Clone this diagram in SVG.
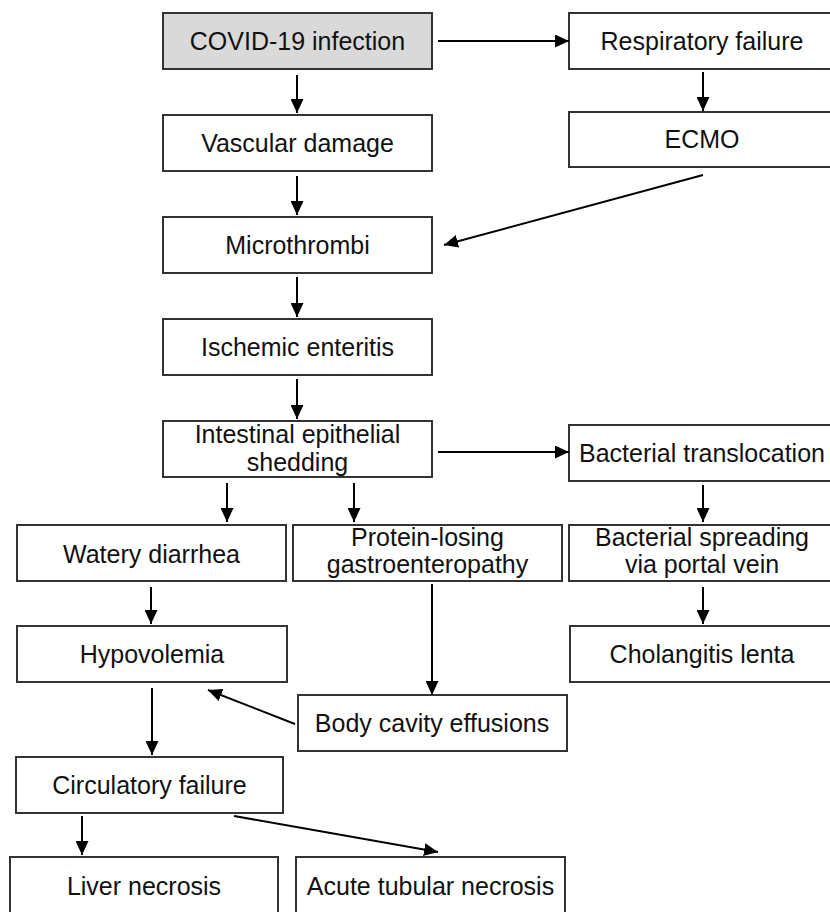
<svg xmlns="http://www.w3.org/2000/svg" width="830" height="912" viewBox="0 0 830 912">
<defs>
<marker id="ah" markerUnits="userSpaceOnUse" markerWidth="15" markerHeight="13" refX="14" refY="6.5" orient="auto">
<path d="M0,0 L14,6.5 L0,13 z" fill="#000"/>
</marker>
<style>
.box{fill:#fff;stroke:#333;stroke-width:2}
.gray{fill:#d9d9d9}
.t{font-family:"Liberation Sans",Arial,sans-serif;font-size:25px;fill:#111;text-anchor:middle}
.c{stroke:#000;stroke-width:2;fill:none;marker-end:url(#ah)}
</style>
</defs>
<rect width="830" height="912" fill="#fff"/>
<g id="covid"><rect class="box gray" x="163" y="13" width="269" height="56"/><text class="t" x="297.5" y="50">COVID-19 infection</text></g>
<g id="resp"><rect class="box" x="569" y="13" width="268" height="56"/><text class="t" x="702" y="50">Respiratory failure</text></g>
<g id="vascular"><rect class="box" x="163" y="115" width="269" height="56"/><text class="t" x="297.5" y="152">Vascular damage</text></g>
<g id="ecmo"><rect class="box" x="569" y="112" width="268" height="55"/><text class="t" x="702" y="148">ECMO</text></g>
<g id="micro"><rect class="box" x="163" y="217" width="269" height="56"/><text class="t" x="297.5" y="254">Microthrombi</text></g>
<g id="ischemic"><rect class="box" x="163" y="319" width="269" height="56"/><text class="t" x="297.5" y="356">Ischemic enteritis</text></g>
<g id="intestinal"><rect class="box" x="163" y="421" width="269" height="56"/><text class="t" x="297.5" y="443">Intestinal epithelial</text><text class="t" x="297.5" y="471">shedding</text></g>
<g id="bacttrans"><rect class="box" x="569" y="425" width="268" height="56"/><text class="t" x="702" y="462">Bacterial translocation</text></g>
<g id="watery"><rect class="box" x="17" y="525" width="269" height="56"/><text class="t" x="151.5" y="563">Watery diarrhea</text></g>
<g id="protein"><rect class="box" x="293" y="525" width="269" height="56"/><text class="t" x="427.5" y="546">Protein-losing</text><text class="t" x="427.5" y="573">gastroenteropathy</text></g>
<g id="spreading"><rect class="box" x="569" y="525" width="268" height="56"/><text class="t" x="702" y="546">Bacterial spreading</text><text class="t" x="702" y="573">via portal vein</text></g>
<g id="hypo"><rect class="box" x="17" y="626" width="270" height="56"/><text class="t" x="152" y="663">Hypovolemia</text></g>
<g id="chol"><rect class="box" x="570" y="626" width="267" height="56"/><text class="t" x="702" y="663">Cholangitis lenta</text></g>
<g id="body"><rect class="box" x="298" y="695" width="269" height="56"/><text class="t" x="432" y="732">Body cavity effusions</text></g>
<g id="circ"><rect class="box" x="16" y="757" width="267" height="56"/><text class="t" x="149.5" y="794">Circulatory failure</text></g>
<g id="liver"><rect class="box" x="10" y="857" width="268" height="60"/><text class="t" x="144" y="895">Liver necrosis</text></g>
<g id="acute"><rect class="box" x="296" y="857" width="269" height="60"/><text class="t" x="430.5" y="895">Acute tubular necrosis</text></g>
<g id="connectors">
<line class="c" x1="438" y1="41" x2="569" y2="41"/>
<line class="c" x1="297" y1="75" x2="297" y2="113"/>
<line class="c" x1="703" y1="72" x2="703" y2="111"/>
<line class="c" x1="297" y1="176" x2="297" y2="215"/>
<line class="c" x1="703" y1="175" x2="444" y2="245"/>
<line class="c" x1="297" y1="277" x2="297" y2="317"/>
<line class="c" x1="297" y1="379" x2="297" y2="419"/>
<line class="c" x1="438" y1="452" x2="569" y2="452"/>
<line class="c" x1="227" y1="483" x2="227" y2="522"/>
<line class="c" x1="354" y1="483" x2="354" y2="522"/>
<line class="c" x1="703" y1="485" x2="703" y2="522"/>
<line class="c" x1="151" y1="587" x2="151" y2="624"/>
<line class="c" x1="703" y1="587" x2="703" y2="624"/>
<line class="c" x1="432" y1="584" x2="432" y2="695"/>
<line class="c" x1="295" y1="724" x2="208" y2="690"/>
<line class="c" x1="152" y1="688" x2="152" y2="755"/>
<line class="c" x1="82" y1="816" x2="82" y2="855"/>
<line class="c" x1="234" y1="816" x2="438" y2="852"/>
</g>
</svg>
